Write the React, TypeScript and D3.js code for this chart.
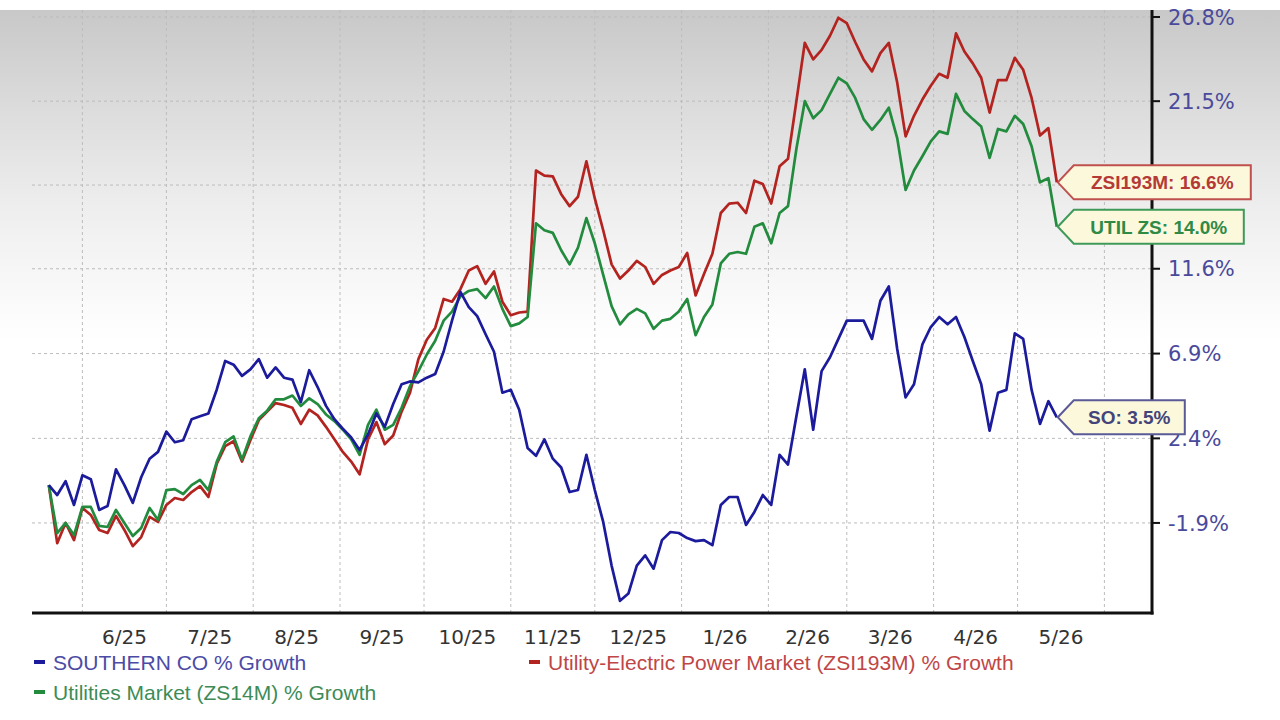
import React from "react";
import * as d3 from "d3";

// daily closes sampled every 3 days, percent growth since start
const startDate = new Date(2025, 4, 20);
const endDate = new Date(2026, 4, 16);
const stepDays = 3;

const soGrowth = [
  0, -0.5, 0.2, -1.0, 0.5, 0.3, -1.25, -1.05, 0.8, 0.0,
  -0.9, 0.4, 1.35, 1.7, 2.75, 2.2, 2.3, 3.4, 3.55, 3.7,
  4.97, 6.5, 6.3, 5.7, 6.05, 6.6, 5.6, 6.15, 5.6, 5.5,
  4.3, 6.0, 5.1, 4.1, 3.4, 2.9, 2.45, 1.8, 2.6, 3.7,
  3.0, 4.2, 5.25, 5.4, 5.35, 5.6, 5.8, 7.0, 8.7, 10.3,
  9.45, 8.95, 7.95, 7.0, 4.8, 4.95, 3.9, 1.9, 1.5, 2.35,
  1.35, 0.9, -0.35, -0.25, 1.55, -0.25, -1.85, -4.0, -5.7, -5.35,
  -4.0, -3.5, -4.15, -2.75, -2.35, -2.4, -2.65, -2.8, -2.75, -3.0,
  -1.0, -0.6, -0.6, -2.0, -1.35, -0.5, -1.0, 1.55, 1.05, 3.55,
  6.05, 2.85, 5.95, 6.7, 7.7, 8.7, 8.7, 8.7, 7.7, 9.8,
  10.6, 7.15, 4.55, 5.25, 7.4, 8.35, 8.9, 8.5, 8.9, 7.8,
  6.5, 5.25, 2.8, 4.8, 4.95, 8.0, 7.7, 4.95, 3.15, 4.35,
  3.5,
];

const utilGrowth = [
  0, -2.4, -1.9, -2.5, -1.1, -1.1, -2.05, -2.1, -1.25, -1.9,
  -2.55, -2.15, -1.15, -1.75, -0.25, -0.2, -0.45, 0.0, 0.27, -0.25,
  1.2, 2.2, 2.5, 1.3, 2.5, 3.45, 3.85, 4.45, 4.45, 4.65,
  4.1, 4.5, 4.2, 3.65, 3.3, 2.85, 2.35, 1.55, 3.1, 3.9,
  2.85, 3.1, 4.0, 5.15, 5.95, 6.85, 7.6, 8.7, 9.2, 10.05,
  10.35, 10.45, 9.95, 10.6, 9.35, 8.4, 8.55, 8.9, 14.2, 13.8,
  13.65, 12.65, 11.85, 12.8, 14.5, 13.05, 11.25, 9.5, 8.5, 9.05,
  9.35, 9.1, 8.25, 8.7, 8.8, 9.2, 9.9, 7.9, 8.9, 9.6,
  11.9, 12.45, 12.55, 12.45, 14.0, 14.2, 13.05, 14.8, 15.2, 18.6,
  21.5, 20.45, 20.95, 21.95, 22.95, 22.6, 21.7, 20.4, 19.75, 20.35,
  21.1, 19.25, 16.15, 17.3, 18.15, 19.05, 19.65, 19.5, 21.95, 20.9,
  20.4, 19.95, 18.05, 19.8, 19.65, 20.6, 20.1, 18.75, 16.6, 16.85,
  14.0,
];

const zsiGrowth = [
  0, -2.9, -1.9, -2.75, -1.15, -1.5, -2.25, -2.4, -1.55, -2.25,
  -3.05, -2.6, -1.6, -1.85, -1.0, -0.65, -0.75, -0.35, -0.05, -0.6,
  1.1, 2.0, 2.25, 1.2, 2.3, 3.35, 3.8, 4.25, 4.15, 4.0,
  3.15, 3.9, 3.6, 3.0, 2.35, 1.7, 1.2, 0.55, 2.35, 3.25,
  2.1, 2.55, 3.8, 4.8, 6.6, 7.65, 8.3, 9.9, 9.75, 10.45,
  11.5, 11.75, 10.75, 11.45, 9.75, 9.0, 9.15, 9.2, 17.3, 17.0,
  16.95, 15.9, 15.2, 15.75, 17.85, 15.65, 13.8, 11.85, 11.05, 11.5,
  12.05, 11.7, 10.75, 11.25, 11.5, 11.7, 12.5, 10.1, 11.3, 12.45,
  14.8, 15.35, 15.4, 14.8, 16.7, 16.5, 15.35, 17.55, 18.0, 21.5,
  25.15, 24.1, 24.7, 25.6, 26.75, 26.4, 25.2, 24.1, 23.35, 24.5,
  25.15, 22.65, 19.35, 20.6, 21.6, 22.45, 23.2, 22.95, 25.75, 24.6,
  23.85, 22.95, 20.8, 22.8, 22.8, 24.2, 23.45, 21.7, 19.4, 19.85,
  16.6,
];

// the 16.4% tick sits under the ZSI193M callout, so its label is not shown
const yTickValues = [26.8, 21.5, 16.44, 11.6, 6.9, 2.4, -1.9];
const yTickLabels = ["26.8%", "21.5%", "", "11.6%", "6.9%", "2.4%", "-1.9%"];

const W = 1280;
const H = 720;
const left = 32;
const right = 1152;
const top = 10;
const bottom = 613;

const series = [
  { key: "zsi", values: zsiGrowth, color: "#b3231f", tag: "ZSI193M", boxW: 193, boxStroke: "#c0504d", boxText: "#b43a36" },
  { key: "util", values: utilGrowth, color: "#228b3e", tag: "UTIL ZS", boxW: 186, boxStroke: "#3f9a5a", boxText: "#2f8a46" },
  { key: "so", values: soGrowth, color: "#1b1b9c", tag: "SO", boxW: 127, boxStroke: "#5a5a96", boxText: "#44447a" },
];

const legend = [
  { text: "SOUTHERN CO % Growth", color: "#1b1b9c", textColor: "#4b4ba6", col: 0, row: 0 },
  { text: "Utility-Electric Power Market (ZSI193M) % Growth", color: "#b3231f", textColor: "#c04646", col: 1, row: 0 },
  { text: "Utilities Market (ZS14M) % Growth", color: "#228b3e", textColor: "#3d8c57", col: 0, row: 1 },
];

export default function App() {
  const dates = d3.timeDay.range(startDate, endDate, stepDays);
  const x = d3.scaleTime().domain([new Date(2025, 4, 14), new Date(2026, 5, 18)]).range([left, right]);
  const y = d3.scaleLog().domain([1 - 6.28 / 100, 1 + 27.25 / 100]).range([bottom, top]);
  const yv = (v: number) => y(1 + v / 100);
  const line = d3
    .line<number>()
    .x((_, i) => x(dates[i]))
    .y((v) => yv(v));

  const months = d3.timeMonth.range(new Date(2025, 5, 1), new Date(2026, 6, 1));
  const fmt = d3.timeFormat("%-m/%y");
  const lastDate = dates[dates.length - 1];

  const callout = (tx: number, ty: number, w: number, h: number) =>
    `M${tx},${ty} L${tx + 16},${ty - h / 2} L${tx + w},${ty - h / 2} L${tx + w},${ty + h / 2} L${tx + 16},${ty + h / 2} Z`;

  return (
    <svg width={W} height={H} style={{ position: "absolute", left: 0, top: 0, background: "#fff" }}>
      <defs>
        <linearGradient id="bg" x1="0" y1={top} x2="0" y2={340} gradientUnits="userSpaceOnUse">
          <stop offset="0" stopColor="#c8c8c8" />
          <stop offset="0.3" stopColor="#dcdcdc" />
          <stop offset="0.6" stopColor="#eeeeee" />
          <stop offset="1" stopColor="#ffffff" />
        </linearGradient>
      </defs>
      <rect x={0} y={top} width={W} height={bottom - top} fill="url(#bg)" />

      {/* grid */}
      {yTickValues.map((v, i) => (
        <line key={"hg" + i} x1={left} x2={right} y1={yv(v)} y2={yv(v)} stroke="#bcbcbc" strokeDasharray="3,3" />
      ))}
      {months.map((m, i) => (
        <line key={"vg" + i} x1={x(m)} x2={x(m)} y1={top} y2={bottom} stroke="#bcbcbc" strokeDasharray="3,3" />
      ))}

      {/* series */}
      {series.map((s) => (
        <path key={s.key} d={line(s.values) || ""} fill="none" stroke={s.color} strokeWidth={2.7} strokeLinejoin="round" />
      ))}

      {/* axes */}
      <line x1={left} x2={right + 1.5} y1={bottom} y2={bottom} stroke="#111" strokeWidth={3} />
      <line x1={right} x2={right} y1={top} y2={bottom + 1.5} stroke="#111" strokeWidth={3} />
      {yTickValues.map((v, i) => (
        <g key={"yt" + i}>
          <line x1={right} x2={right + 8} y1={yv(v)} y2={yv(v)} stroke="#111" strokeWidth={2} />
          {yTickLabels[i] && (
            <text x={right + 16} y={yv(v)} dy="0.36em" fontFamily="DejaVu Sans, Verdana, sans-serif" fontSize={21} fill="#4a4a9c">
              {yTickLabels[i]}
            </text>
          )}
        </g>
      ))}
      {months.slice(0, -1).map((m, i) => {
        const mid = (x(m) + x(months[i + 1])) / 2;
        return (
          <text key={"xt" + i} x={mid} y={637} dy="0.36em" textAnchor="middle" fontFamily="DejaVu Sans, Verdana, sans-serif" fontSize={20} fill="#333">
            {fmt(m)}
          </text>
        );
      })}

      {/* end callouts */}
      {series.map((s) => {
        const v = s.values[s.values.length - 1];
        const tx = x(lastDate) + 1;
        const ty = yv(v);
        return (
          <g key={"c" + s.key}>
            <path d={callout(tx, ty, s.boxW, 34)} fill="#fcf8dc" stroke={s.boxStroke} strokeWidth={2} />
            <text x={tx + 16 + (s.boxW - 16) / 2} y={ty} dy="0.36em" textAnchor="middle" fontFamily="Liberation Sans, Arial, sans-serif" fontWeight="bold" fontSize={19} fill={s.boxText}>
              {`${s.tag}: ${v.toFixed(1)}%`}
            </text>
          </g>
        );
      })}

      {/* legend */}
      {legend.map((l, i) => {
        const lx = l.col === 0 ? 34 : 529;
        const ly = 662 + l.row * 30;
        return (
          <g key={"lg" + i}>
            <rect x={lx} y={ly - 2} width={11} height={4} fill={l.color} />
            <text x={lx + 19} y={ly} dy="0.36em" fontFamily="Liberation Sans, Arial, sans-serif" fontSize={21} fill={l.textColor}>
              {l.text}
            </text>
          </g>
        );
      })}
    </svg>
  );
}
